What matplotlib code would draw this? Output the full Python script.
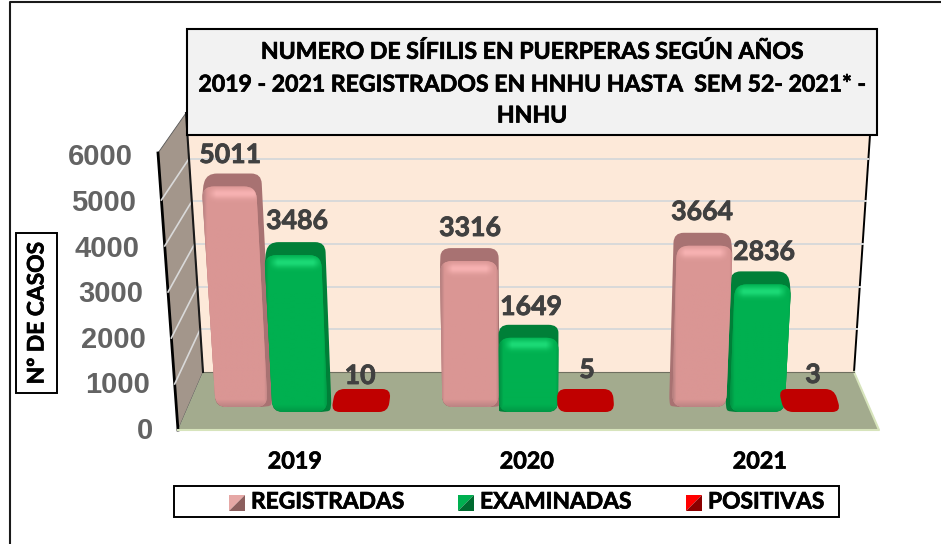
import numpy as np
import matplotlib
matplotlib.use('Agg')
import matplotlib.pyplot as plt
import matplotlib.patheffects as pe
from matplotlib.path import Path
from matplotlib.patches import PathPatch, Polygon, Rectangle

years = ['2019', '2020', '2021']
registradas = [5011, 3316, 3664]
examinadas = [3486, 1649, 2836]
positivas = [10, 5, 3]
y_ticks = [0, 1000, 2000, 3000, 4000, 5000, 6000]
titulo = ['NUMERO DE SÍFILIS EN PUERPERAS SEGÚN AÑOS',
          '2019 - 2021 REGISTRADOS EN HNHU HASTA  SEM 52- 2021* -',
          'HNHU']

W, H = 941, 544
# escala: 1000 casos = 42.67 px en la pared, grupos cada 226.5 px
sx = 226.5
sy = 256 / 6000
x0, y0 = 302.0, 372.0


def dx(p):
    return (p - x0) / sx


def dy(p):
    return (y0 - p) / sy


def lean(x, py):
    # perspectiva: todo se abre hacia arriba desde el centro
    return x + (x - 528) * 2e-4 * (412 - py)


def rounded(pts, r):
    verts = []
    codes = []
    n = len(pts)
    for i in range(n):
        p = np.array(pts[i], float)
        a = np.array(pts[i - 1], float)
        b = np.array(pts[(i + 1) % n], float)
        la = np.linalg.norm(a - p)
        lb = np.linalg.norm(b - p)
        p1 = p + (a - p) / la * min(r, la / 2)
        p2 = p + (b - p) / lb * min(r, lb / 2)
        verts += [p1, p, p2]
        codes += [Path.LINETO, Path.CURVE3, Path.CURVE3]
    codes[0] = Path.MOVETO
    verts.append(verts[0])
    codes.append(Path.CLOSEPOLY)
    verts = [(dx(v[0]), dy(v[1])) for v in verts]
    return Path(verts, codes)


def shade(h, face, edge, high):
    face, edge, high = [np.array(matplotlib.colors.to_rgb(c)) for c in (face, edge, high)]
    u = np.linspace(0, 1, 60)
    v = np.linspace(0, h, max(int(h), 2))
    uu, vv = np.meshgrid(u, v)
    # borde oscuro a los lados y al pie, brillo arriba
    e = np.clip(1 - uu / 0.07, 0, 1) * 0.8 + np.clip((uu - 0.95) / 0.05, 0, 1) * 0.5
    e = np.maximum(e, np.clip((vv - (h - 7)) / 7, 0, 1) * 0.6)
    hi = np.exp(-((vv - 7) / 5.0) ** 2) * np.clip(uu * 7 - 0.5, 0, 1) * np.clip((1 - uu) * 7 - 0.5, 0, 1)
    img = face + (edge - face) * e[..., None]
    img = img + (high - img) * hi[..., None]
    return np.clip(img, 0, 1)


def bar_3d(ax, x, value, base_px, width, scale, face, edge, high, cap):
    bot = base_px
    top = bot - value * scale / 1000
    c = x0 + x * sx
    shift = (528 - c) * 0.018
    fw = width - abs(shift)
    xl, xr = c - shift / 2 - fw / 2, c - shift / 2 + fw / 2
    bl, tl, tr, br = (lean(xl, bot), bot), (lean(xl, top), top), (lean(xr, top), top), (lean(xr, bot), bot)
    quad = [bl, tl, tr, br]
    # caja de atras: tapa y lado unidos a la cara
    tlb = (tl[0] + shift, top - 13)
    trb = (tr[0] + shift, top - 13)
    if shift >= 0:
        back = [bl, (tl[0], top + 3), tlb, trb, (br[0] + shift, bot - 3), br]
    else:
        back = [bl, (bl[0] + shift, bot - 3), tlb, trb, (tr[0], top + 3), br]
    ax.add_patch(PathPatch(rounded(back, 10), fc=cap, ec='none', zorder=4))
    patch = PathPatch(rounded(quad, 12), fc=face, ec='none', zorder=5)
    ax.add_patch(patch)
    l, r = dx(min(p[0] for p in quad)), dx(max(p[0] for p in quad))
    im = ax.imshow(shade(bot - top, face, edge, high), extent=(l, r, dy(bot), dy(top)), aspect='auto',
                   zorder=5, interpolation='bilinear')
    im.set_clip_path(patch)


def flat_bar(ax, x, base_px, width, color):
    bot = base_px
    top = bot - 23
    c = x0 + x * sx
    xl, xr = c - width / 2, c + width / 2
    back = lambda p: p + (528 - p) * 0.022
    quad = [(xl, bot), (back(xl), top), (back(xr), top), (xr, bot)]
    ax.add_patch(PathPatch(rounded(quad, 9), fc=color, ec='none', zorder=5))


def fat(lw, color):
    # Calibri bold sale mas gruesa que Lato
    return [pe.withStroke(linewidth=lw, foreground=color)]


fig = plt.figure(figsize=(W / 100, H / 100), dpi=100)
ax = fig.add_axes([0, 0, 1, 1])
ax.set_axis_off()
xlim = (dx(0), dx(W))
ylim = (dy(H), dy(0))
ax.set_xlim(xlim)
ax.set_ylim(ylim)

lato = ['Lato', 'DejaVu Sans']
arial = ['Liberation Sans', 'DejaVu Sans']

# marco exterior
ax.plot([dx(9.5), dx(9.5), dx(941)], [dy(544), dy(2), dy(2)], color='#1A1A1A', lw=1.5, zorder=1)

# pared del fondo
pared = [(dx(187), dy(130)), (dx(871), dy(130)), (dx(854), dy(372)), (dx(203), dy(372))]
ax.add_patch(Polygon(pared, fc='#FDE9D9', ec='none', zorder=1))
ax.plot([dx(870), dx(854)], [dy(135), dy(372)], color='black', lw=1.4, zorder=2)

# pared izquierda
lateral = [(dx(158), dy(153)), (dx(186), dy(113)), (dx(203), dy(372)), (dx(178), dy(430))]
ax.add_patch(Polygon(lateral, fc='#A3968B', ec='#555555', lw=0.6, zorder=2))
ax.plot([dx(158), dx(178)], [dy(153), dy(430)], color='black', lw=2.0, zorder=3)

# suelo
suelo = [(dx(203), dy(372)), (dx(854), dy(372)), (dx(879), dy(430)), (dx(178), dy(430))]
ax.add_patch(Polygon(suelo, fc='#A3AB8E', ec='none', zorder=2))
ax.plot([dx(178), dx(879), dx(854)], [dy(430), dy(430), dy(372)], color='#D7E4BC', lw=1.5, zorder=3)
ax.plot([dx(203), dx(854)], [dy(372), dy(372)], color='#6F6F60', lw=0.8, zorder=3)

# lineas de division
for t in y_ticks[1:6]:
    yw = y0 - t * sy
    xw = 186 + 17 * (yw - 113) / 259
    xe = 870 - 16 * (yw - 135) / 237
    ax.plot([dx(xw), dx(xe)], [t, t], color='#D9D9D9', lw=1.4, zorder=2)
    yf = 430 - t * 46 / 1000
    xf = 178 - 20 * (430 - yf) / 277
    ax.plot([dx(xf), dx(xw)], [dy(yf), t], color='#D9D9D9', lw=1.2, zorder=3)
ax.plot([dx(186), dx(203)], [dy(113), dy(372)], color='#1A1A1A', lw=1.5, zorder=3)

# etiquetas del eje
for t in y_ticks:
    yt = 431 - t * 45.6 / 1000
    ax.text(dx(153 - t * 0.00333), dy(yt), str(t), ha='right', va='center', fontsize=21,
            fontweight='bold', color='#636363', family=arial, zorder=8)

# barras
for i in range(len(years)):
    bar_3d(ax, i - 0.254, registradas[i], 407, 57, 44, '#DA9694', '#A87878', '#F7B2B2', '#A87272')
    bar_3d(ax, i, examinadas[i], 412, 59, 45, '#00B050', '#00893F', '#1CDA76', '#007F38')
    flat_bar(ax, i + 0.254, 412, 57, '#C00000')

# valores
etq_x = [[230, 297, 360], [470, 531, 587], [702, 764, 813]]
etq_y = [[155, 221, 376], [228, 307, 370], [212, 252, 375]]
for i in range(len(years)):
    vals = [registradas[i], examinadas[i], positivas[i]]
    for j in range(3):
        ax.text(dx(etq_x[i][j]), dy(etq_y[i][j]), str(vals[j]), ha='center', va='center',
                fontsize=19.2, fontweight='bold', color='#404040', family=lato, zorder=9,
                path_effects=fat(0.6, '#404040'))

# años
for i, px in enumerate([295, 527, 760]):
    ax.text(dx(px), dy(462), years[i], ha='center', va='center', fontsize=16.8,
            fontweight='bold', color='black', family=lato, zorder=9, path_effects=fat(0.5, 'black'))

# titulo
ax.add_patch(Rectangle((dx(187), dy(135)), 690 / sx, 106 / sy, fc='#F2F2F2', ec='black', lw=1.5, zorder=7))
for linea, py in zip(titulo, [52, 85, 116]):
    ax.text(dx(532), dy(py), linea, ha='center', va='center', fontsize=16.6, fontweight='bold',
            color='black', family=lato, zorder=9, path_effects=fat(0.5, 'black'))

# titulo del eje
ax.add_patch(Rectangle((dx(16), dy(393)), 41 / sx, 160 / sy, fc='white', ec='black', lw=1.4, zorder=7))
ax.text(dx(37), dy(313), 'Nº DE CASOS', rotation=90, ha='center', va='center', fontsize=16.4,
        fontweight='bold', color='black', family=lato, zorder=9, path_effects=fat(0.5, 'black'))

# leyenda
ax.add_patch(Rectangle((dx(174), dy(517)), 665 / sx, 31 / sy, fc='white', ec='black', lw=1.4, zorder=7))
ley = [('REGISTRADAS', 229, '#E6A8A6', '#8C5F5E'),
       ('EXAMINADAS', 458, '#00B050', '#006B30'),
       ('POSITIVAS', 686, '#FF0000', '#8B0000')]
for nombre, xs, c1, c2 in ley:
    ax.add_patch(Polygon([(dx(xs), dy(511)), (dx(xs), dy(495)), (dx(xs + 16), dy(495))], fc=c1, ec='none', zorder=8))
    ax.add_patch(Polygon([(dx(xs), dy(511)), (dx(xs + 16), dy(511)), (dx(xs + 16), dy(495))], fc=c2, ec='none', zorder=8))
    ax.text(dx(xs + 22), dy(502), nombre, ha='left', va='center', fontsize=16.4, fontweight='bold',
            color='black', family=lato, zorder=9, path_effects=fat(0.5, 'black'))

ax.set_xlim(xlim)
ax.set_ylim(ylim)
fig.savefig('out.png', dpi=100, facecolor='white')
